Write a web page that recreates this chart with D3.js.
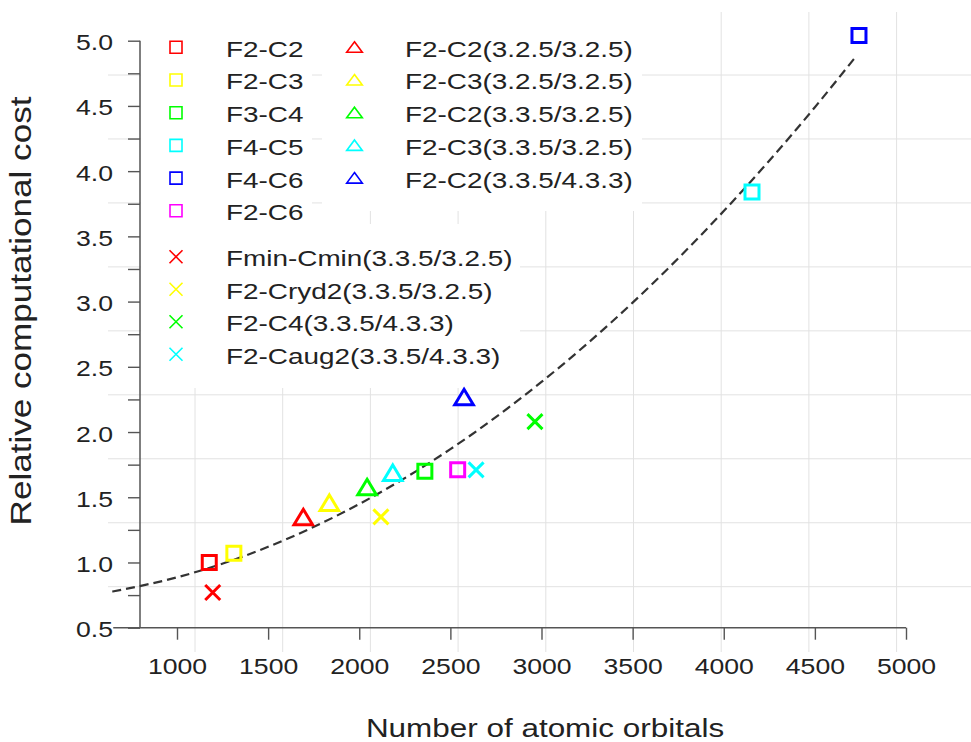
<!DOCTYPE html>
<html>
<head>
<meta charset="utf-8">
<script src="https://cdn.jsdelivr.net/npm/d3@7"></script>
<style>
  html, body { margin: 0; padding: 0; background: #fff; }
  svg { display: block; }
  text { font-family: "Liberation Sans", Arial, sans-serif; fill: #222; }
</style>
</head>
<body>
<svg id="chart" width="971" height="742"></svg>
<script>
// ---------------- data ----------------
const xTicks = [1000, 1500, 2000, 2500, 3000, 3500, 4000, 4500, 5000];
const yTicks = [0.5, 1.0, 1.5, 2.0, 2.5, 3.0, 3.5, 4.0, 4.5, 5.0];
const yMinorTicks = [0.75, 1.25, 1.75, 2.25, 2.75, 3.25, 3.75, 4.25, 4.75];

const squareNames  = ["F2-C2", "F2-C3", "F3-C4", "F4-C5", "F4-C6", "F2-C6"];
const squareColors = ["#ff0000", "#ffff00", "#00ff00", "#00ffff", "#0000ff", "#ff00ff"];
const squareX      = [1177, 1312, 2360, 4155, 4742, 2540];
const squareY      = [1.00, 1.07, 1.70, 3.84, 5.04, 1.71];

const triangleNames  = ["F2-C2(3.2.5/3.2.5)", "F2-C3(3.2.5/3.2.5)", "F2-C2(3.3.5/3.2.5)", "F2-C3(3.3.5/3.2.5)", "F2-C2(3.3.5/4.3.3)"];
const triangleColors = ["#ff0000", "#ffff00", "#00ff00", "#00ffff", "#0000ff"];
const triangleX      = [1693, 1836, 2043, 2184, 2575];
const triangleY      = [1.35, 1.46, 1.58, 1.69, 2.27];

const crossNames  = ["Fmin-Cmin(3.3.5/3.2.5)", "F2-Cryd2(3.3.5/3.2.5)", "F2-C4(3.3.5/4.3.3)", "F2-Caug2(3.3.5/4.3.3)"];
const crossColors = ["#ff0000", "#ffff00", "#00ff00", "#00ffff"];
const crossX      = [1196, 2119, 2964, 2641];
const crossY      = [0.77, 1.35, 2.08, 1.71];

// dashed trend curve
const fitX = [645, 1000, 1500, 2000, 2500, 3000, 3500, 4000, 4500, 4715];
const fitY = [0.777, 0.886, 1.120, 1.448, 1.869, 2.384, 2.992, 3.694, 4.490, 4.861];

// ---------------- layout ----------------
const svg = d3.select("#chart");
const SX = 1.21;   // horizontal glyph stretch of the reference font
const LSX = 1.24;  // legend text stretch

const x = d3.scaleLinear().domain([1000, 5000]).range([177, 906]);
const y = d3.scaleLinear().domain([0.5, 5.0]).range([627.7, 40.7]);
// background grid (slightly offset from the axis ticks in the reference)
const gridX = d3.scaleLinear().domain([1000, 5000]).range([195, 896.6]);
const gridY = d3.scaleLinear().domain([0.75, 4.75]).range([586.7, 75]);

// grid
const grid = svg.append("g").attr("stroke", "#e2e2e2").attr("stroke-width", 1);
grid.selectAll("line.h").data(yMinorTicks).join("line").attr("class", "h")
  .attr("x1", 108).attr("x2", 971)
  .attr("y1", d => gridY(d)).attr("y2", d => gridY(d));
grid.selectAll("line.v").data(xTicks).join("line").attr("class", "v")
  .attr("x1", d => gridX(d)).attr("x2", d => gridX(d))
  .attr("y1", 12).attr("y2", 652);

// legend backgrounds (cover the grid)
const lgBg = svg.append("g").attr("fill", "#fff");
lgBg.append("rect").attr("x", 141).attr("y", 10).attr("width", 171).attr("height", 214);
lgBg.append("rect").attr("x", 322).attr("y", 10).attr("width", 320).attr("height", 201);
lgBg.append("rect").attr("x", 141).attr("y", 224).attr("width", 379).attr("height", 164);

// axes
const axisColor = "#555";
const yAxis = svg.append("g").attr("transform", "translate(140,0)")
  .call(d3.axisLeft(y).tickValues(yTicks).tickSize(12).tickSizeOuter(0).tickFormat(d3.format(".1f")));
yAxis.select(".domain").remove();
yAxis.selectAll(".tick line").attr("stroke", axisColor).attr("stroke-width", 1.4);
yAxis.selectAll(".tick text")
  .attr("x", -27 / SX).attr("dy", null).attr("y", 9)
  .attr("transform", `scale(${SX},1)`)
  .style("font-size", "22px").style("font-family", '"Liberation Sans", Arial, sans-serif').attr("fill", "#222");

const yMinor = svg.append("g").attr("transform", "translate(140,0)")
  .call(d3.axisLeft(y).tickValues(yMinorTicks).tickSize(12).tickSizeOuter(0).tickFormat(""));
yMinor.select(".domain").remove();
yMinor.selectAll(".tick line").attr("stroke", axisColor).attr("stroke-width", 1.4);

const xAxis = svg.append("g").attr("transform", `translate(0,${y(0.5)})`)
  .call(d3.axisBottom(x).tickValues(xTicks).tickSize(12).tickSizeOuter(0).tickFormat(d3.format("d")));
xAxis.select(".domain").remove();
xAxis.selectAll(".tick line").attr("stroke", axisColor).attr("stroke-width", 1.4);
xAxis.selectAll(".tick text")
  .attr("y", 46.5).attr("dy", null)
  .attr("transform", `scale(${SX},1)`)
  .style("font-size", "22px").style("font-family", '"Liberation Sans", Arial, sans-serif').attr("fill", "#222");

// axis lines
svg.append("line").attr("x1", 140).attr("x2", 140).attr("y1", y(5.0)).attr("y2", y(0.5))
  .attr("stroke", axisColor).attr("stroke-width", 1.5);
svg.append("line").attr("x1", x(650)).attr("x2", x(5000)).attr("y1", y(0.5)).attr("y2", y(0.5))
  .attr("stroke", axisColor).attr("stroke-width", 1.5);

// axis titles
svg.append("text")
  .attr("transform", `translate(545,737) scale(${SX},1)`)
  .attr("text-anchor", "middle").style("font-size", "26px")
  .text("Number of atomic orbitals");
svg.append("text")
  .attr("transform", `translate(31,311) rotate(-90) scale(${SX},1)`)
  .attr("text-anchor", "middle").style("font-size", "29px")
  .text("Relative computational cost");

// dashed trend curve
const line = d3.line().x((d, i) => x(fitX[i])).y((d, i) => y(fitY[i])).curve(d3.curveMonotoneX);
svg.append("path").attr("d", line(fitX))
  .attr("fill", "none").attr("stroke", "#333").attr("stroke-width", 2.2)
  .attr("stroke-dasharray", "9,5");

// marker shapes
function squarePath(h) { return `M${-h},${-h}H${h}V${h}H${-h}Z`; }
function trianglePath(w, top, bot) { return `M0,${top}L${w},${bot}L${-w},${bot}Z`; }
function crossPath(h) { return `M${-h},${-h}L${h},${h}M${h},${-h}L${-h},${h}`; }

const pts = svg.append("g").attr("fill", "none");
pts.selectAll("path.sq").data(squareX).join("path").attr("class", "sq")
  .attr("transform", (d, i) => `translate(${x(squareX[i])},${y(squareY[i])})`)
  .attr("d", squarePath(7)).attr("stroke", (d, i) => squareColors[i]).attr("stroke-width", 3);
pts.selectAll("path.tr").data(triangleX).join("path").attr("class", "tr")
  .attr("transform", (d, i) => `translate(${x(triangleX[i])},${y(triangleY[i])})`)
  .attr("d", trianglePath(9.3, -7.5, 8)).attr("stroke", (d, i) => triangleColors[i]).attr("stroke-width", 3);
pts.selectAll("path.cr").data(crossX).join("path").attr("class", "cr")
  .attr("transform", (d, i) => `translate(${x(crossX[i])},${y(crossY[i])})`)
  .attr("d", crossPath(7.5)).attr("stroke", (d, i) => crossColors[i]).attr("stroke-width", 3);

// legend
const lg = svg.append("g");
const rowH = 32.7;
function legendText(tx, ty, s) {
  lg.append("text").attr("transform", `translate(${tx},${ty}) scale(${LSX},1)`)
    .style("font-size", "22.5px").text(s);
}
squareNames.forEach((n, i) => {
  const cy = 47.3 + i * rowH;
  lg.append("path").attr("transform", `translate(176,${cy})`).attr("d", squarePath(6))
    .attr("fill", "none").attr("stroke", squareColors[i]).attr("stroke-width", 1.6);
  legendText(226, cy + 9.4, n);
});
triangleNames.forEach((n, i) => {
  const cy = 47.3 + i * rowH;
  lg.append("path").attr("transform", `translate(354.5,${cy})`).attr("d", trianglePath(7.8, -5.5, 5))
    .attr("fill", "none").attr("stroke", triangleColors[i]).attr("stroke-width", 1.6);
  legendText(405, cy + 9.4, n);
});
crossNames.forEach((n, i) => {
  const cy = 256.7 + i * 32.5;
  lg.append("path").attr("transform", `translate(176,${cy})`).attr("d", crossPath(6.5))
    .attr("fill", "none").attr("stroke", crossColors[i]).attr("stroke-width", 1.6);
  legendText(226, cy + 9.4, n);
});
</script>
</body>
</html>
